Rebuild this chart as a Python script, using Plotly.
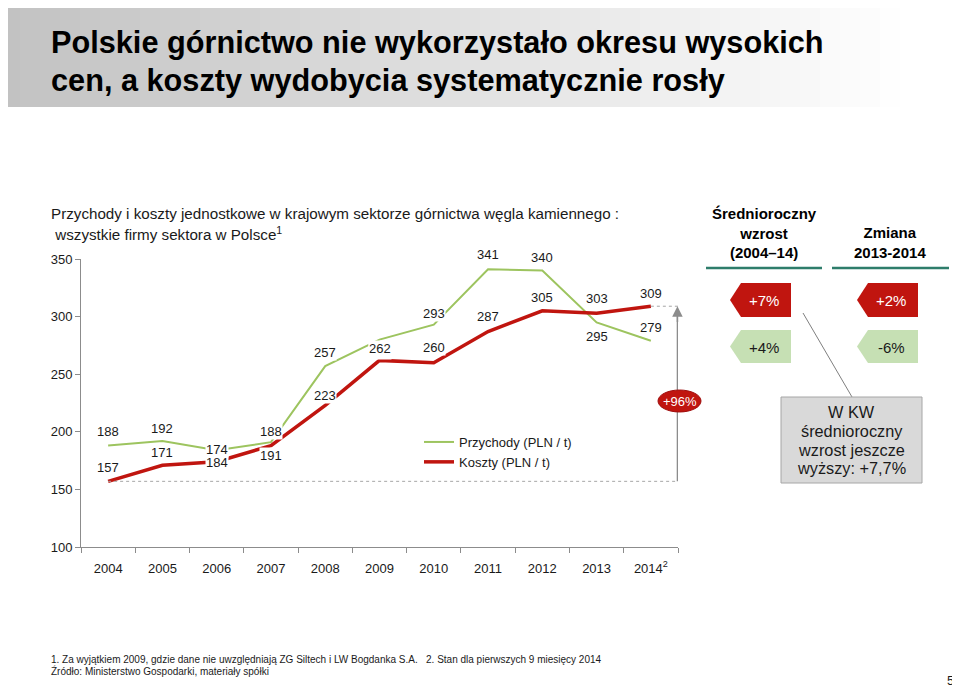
import plotly.graph_objects as go

# ---------------- data ----------------
years = [2004, 2005, 2006, 2007, 2008, 2009, 2010, 2011, 2012, 2013, 2014]
year_labels = ["2004", "2005", "2006", "2007", "2008", "2009", "2010",
               "2011", "2012", "2013", "2014<sup>2</sup>"]
revenue = [188, 192, 184, 191, 257, 280, 293, 341, 340, 295, 279]   # Przychody (PLN / t)
costs = [157, 171, 174, 188, 223, 262, 260, 287, 305, 303, 309]     # Koszty (PLN / t)
y_ticks = [100, 150, 200, 250, 300, 350]

growth_headers = ["<b>Średnioroczny<br>wzrost<br>(2004–14)</b>", "<b>Zmiana<br>2013-2014</b>"]
growth_costs = ["+7%", "+2%"]
growth_revenue = ["+4%", "-6%"]
total_change = "+96%"
kw_note_lines = ["W KW", "średnioroczny", "wzrost jeszcze", "wyższy: +7,7%"]

title_lines = ["<b>Polskie górnictwo nie wykorzystało okresu wysokich</b>",
               "<b>cen, a koszty wydobycia systematycznie rosły</b>"]
subtitle1 = "Przychody i koszty jednostkowe w krajowym sektorze górnictwa węgla kamiennego :"
subtitle2 = " wszystkie firmy sektora w Polsce<sup>1</sup>"
foot1 = "1. Za wyjątkiem 2009, gdzie dane nie uwzględniają ZG Siltech i LW Bogdanka S.A.   2. Stan dla pierwszych 9 miesięcy 2014"
foot2 = "Źródło: Ministerstwo Gospodarki, materiały spółki"
page_no = "5"

# label offsets (pixels, style only)
rev_shift = [14, 13, -12, -13, 14, -12, 11, 15, 13, -14, 13]
cost_shift = [14, 13, 12, 14, 10, 12, 15, 15, 13, 15, 13]

GREEN = "#9dc45f"
RED = "#c0150f"
LIGHTGREEN = "#c6e0b4"
FONT = "Liberation Sans, Arial, sans-serif"
OFF = 8                # page body margin
W, H = 960 - OFF, 690 - OFF


def PX(x):
    return (x - OFF) / W


def PY(y):
    return 1 - (y - OFF) / H


def text_ann(x, y, text, size, color="#1a1a1a", xanchor="center", yanchor="middle", **kw):
    return dict(xref="paper", yref="paper", x=PX(x), y=PY(y), xanchor=xanchor, yanchor=yanchor,
                text=text, showarrow=False, font=dict(family=FONT, size=size, color=color), **kw)


fig = go.Figure()
fig.add_trace(go.Scatter(x=years, y=revenue, mode="lines", name="Przychody (PLN / t)",
                         line=dict(color=GREEN, width=2)))
fig.add_trace(go.Scatter(x=years, y=costs, mode="lines", name="Koszty (PLN / t)",
                         line=dict(color=RED, width=3.5)))

shapes = []
annotations = []

# title gradient band
n = 48
for i in range(n):
    x0 = i * 960 / n
    x1 = (i + 1) * 960 / n
    frac = min(1.0, (x0 + x1) / 2 / 900)
    c = int(194 + (255 - 194) * frac)
    shapes.append(dict(type="rect", xref="paper", yref="paper", x0=PX(x0), x1=PX(x1) + 0.001,
                       y0=PY(107), y1=PY(2), fillcolor=f"rgb({c},{c},{c})", line=dict(width=0),
                       layer="below"))

annotations.append(text_ann(49, 43, title_lines[0], 30.7, "#000000", xanchor="left"))
annotations.append(text_ann(49, 80, title_lines[1], 30.7, "#000000", xanchor="left"))
annotations.append(text_ann(49, 214, subtitle1, 15.2, xanchor="left"))
annotations.append(text_ann(49, 234, subtitle2, 15.2, xanchor="left"))

# data labels
for yr, v, s in zip(years, revenue, rev_shift):
    annotations.append(dict(x=yr, y=v, xref="x", yref="y", yshift=s, text=str(v), showarrow=False,
                            xanchor="center", yanchor="middle",
                            bgcolor="white", borderpad=0, font=dict(family=FONT, size=13, color="#1a1a1a")))
for yr, v, s in zip(years, costs, cost_shift):
    annotations.append(dict(x=yr, y=v, xref="x", yref="y", yshift=s, text=str(v), showarrow=False,
                            xanchor="center", yanchor="middle",
                            bgcolor="white", borderpad=0, font=dict(family=FONT, size=13, color="#1a1a1a")))

# dotted reference lines and +96% arrow
x_end = years[-1] + 0.5
x_arrow = years[-1] + 0.49
shapes.append(dict(type="line", xref="x", yref="y", x0=years[0], x1=x_end, y0=costs[0], y1=costs[0],
                   line=dict(color="#a6a6a6", width=1, dash="dot")))
shapes.append(dict(type="line", xref="x", yref="y", x0=years[-1], x1=x_end, y0=costs[-1], y1=costs[-1],
                   line=dict(color="#a6a6a6", width=1, dash="dot")))
shapes.append(dict(type="line", xref="x", yref="y", x0=x_arrow, x1=x_arrow, y0=costs[0], y1=costs[-1] - 4,
                   line=dict(color="#8c8c8c", width=1.5)))
annotations.append(dict(x=x_arrow, y=costs[-1], xref="x", yref="y", ax=x_arrow, ay=costs[-1] - 15,
                        axref="x", ayref="y", text="", showarrow=True, arrowhead=2, arrowsize=1.4,
                        arrowwidth=1.5, arrowcolor="#8c8c8c"))
shapes.append(dict(type="circle", xref="paper", yref="paper", x0=PX(658), x1=PX(701), y0=PY(412), y1=PY(390),
                   fillcolor=RED, line=dict(color="#a01010", width=1)))
annotations.append(text_ann(679.5, 401, total_change, 13, "white"))

# right panel headers
col_centers = [764, 890]
for cx, htxt in zip(col_centers, growth_headers):
    annotations.append(text_ann(cx, 263, htxt, 15, "#000000", yanchor="bottom"))
shapes.append(dict(type="line", xref="paper", yref="paper", x0=PX(706), x1=PX(822), y0=PY(268), y1=PY(268),
                   line=dict(color="#2e7d6b", width=2.5)))
shapes.append(dict(type="line", xref="paper", yref="paper", x0=PX(832), x1=PX(949), y0=PY(268), y1=PY(268),
                   line=dict(color="#2e7d6b", width=2.5)))


def tag(x_left, y_top, y_bot, x_right, color):
    ym = (y_top + y_bot) / 2
    pts = [(x_left, ym), (x_left + 11, y_top), (x_right, y_top), (x_right, y_bot), (x_left + 11, y_bot)]
    d = "M " + " L ".join(f"{PX(a):.5f},{PY(b):.5f}" for a, b in pts) + " Z"
    return dict(type="path", xref="paper", yref="paper", path=d, fillcolor=color, line=dict(width=0))


tag_lefts = [730, 857]
for i, xl in enumerate(tag_lefts):
    shapes.append(tag(xl, 283, 317, xl + 61, RED))
    shapes.append(tag(xl, 330, 363, xl + 61, LIGHTGREEN))
    annotations.append(text_ann(xl + 34, 300, growth_costs[i], 15, "white"))
    annotations.append(text_ann(xl + 34, 347, growth_revenue[i], 15))

# KW note box with connector
shapes.append(dict(type="line", xref="paper", yref="paper", x0=PX(803), y0=PY(313), x1=PX(852), y1=PY(397),
                   line=dict(color="#7f7f7f", width=1)))
shapes.append(dict(type="rect", xref="paper", yref="paper", x0=PX(781), x1=PX(922), y0=PY(483), y1=PY(397),
                   fillcolor="#d9d9d9", line=dict(color="#a6a6a6", width=1)))
for k, line in enumerate(kw_note_lines):
    annotations.append(text_ann(851.5, 411.5 + 19 * k, line, 16.3))

# footnotes
annotations.append(text_ann(49, 659, foot1, 10, xanchor="left"))
annotations.append(text_ann(49, 671, foot2, 10, xanchor="left"))
annotations.append(text_ann(950, 680, page_no, 13))

fig.update_layout(
    width=W, height=H,
    margin=dict(l=0, r=0, t=0, b=0, pad=0, autoexpand=False),
    paper_bgcolor="white", plot_bgcolor="white",
    font=dict(family=FONT, size=13, color="#1a1a1a"),
    shapes=shapes, annotations=annotations,
    showlegend=True,
    legend=dict(x=PX(419), y=PY(427), xanchor="left", yanchor="top", bgcolor="rgba(0,0,0,0)",
                font=dict(family=FONT, size=13, color="#1a1a1a"), tracegroupgap=0),
    xaxis=dict(domain=[PX(81), PX(678)], range=[years[0] - 0.5, years[-1] + 0.5], automargin=False,
               tickmode="array", tickvals=years, ticktext=year_labels,
               ticks="outside", ticklen=9, tickcolor="rgba(0,0,0,0)",
               showline=True, linecolor="#8c8c8c", linewidth=1, showgrid=False, zeroline=False,
               tickfont=dict(family=FONT, size=13, color="#1a1a1a"),
               minor=dict(ticks="outside", tickmode="array",
                          tickvals=[y - 0.5 for y in years] + [years[-1] + 0.5],
                          ticklen=5, tickcolor="#8c8c8c", showgrid=False)),
    yaxis=dict(domain=[PY(547), PY(259)], range=[100, 350], tickmode="array", tickvals=y_ticks,
               automargin=False,
               ticks="outside", ticklen=5, tickcolor="#8c8c8c",
               showline=True, linecolor="#8c8c8c", linewidth=1, showgrid=False, zeroline=False,
               tickfont=dict(family=FONT, size=13, color="#1a1a1a")),
)

fig.write_html("out.html")
